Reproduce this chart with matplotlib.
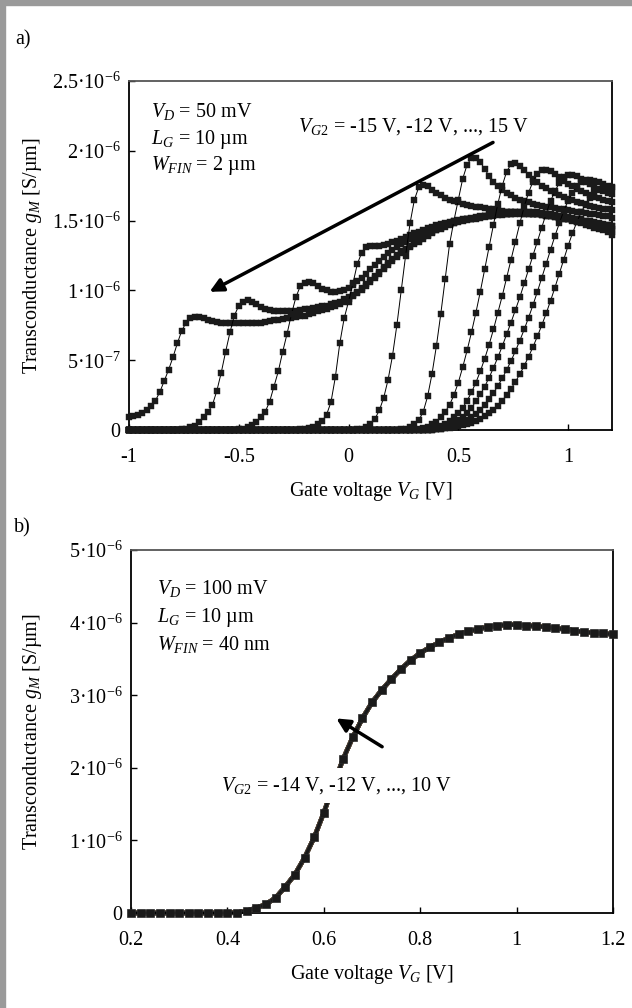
import numpy as np
import matplotlib
matplotlib.use("Agg")
import matplotlib.pyplot as plt
from matplotlib.patches import Rectangle

plt.rcParams["font.family"] = "Liberation Serif"
plt.rcParams["mathtext.fontset"] = "custom"
plt.rcParams["mathtext.rm"] = "Liberation Serif"
plt.rcParams["mathtext.it"] = "Liberation Serif:italic"
plt.rcParams["axes.unicode_minus"] = False

FS = 14.5

# ---- panel a: W_FIN = 2 um, gm in 1e-6 S/um, V_G from -1 to 1.2 in 0.02 V steps
vg_a = np.round(np.arange(-1.0, 1.2001, 0.02), 2)
vg2_a = [15, 12, 9, 6, 3, 0, -3, -6, -9, -12, -15]

# each list runs from the curve's onset up to 1.2 V (zeros before it)
gm_a_p15 = [0.09, 0.10, 0.11, 0.12, 0.14, 0.17, 0.21, 0.27, 0.35, 0.43,
            0.52, 0.62, 0.71, 0.77, 0.80, 0.81, 0.81, 0.80, 0.79, 0.78,
            0.775, 0.77, 0.765, 0.765, 0.765, 0.765, 0.765, 0.765, 0.77, 0.77,
            0.77, 0.775, 0.78, 0.785, 0.79, 0.795, 0.80, 0.805, 0.81, 0.815,
            0.82, 0.83, 0.84, 0.85, 0.86, 0.87, 0.88, 0.89, 0.905, 0.92,
            0.94, 0.96, 0.98, 1.00, 1.03, 1.06, 1.09, 1.12, 1.15, 1.18,
            1.21, 1.24, 1.27, 1.29, 1.31, 1.33, 1.35, 1.37, 1.39, 1.41,
            1.43, 1.44, 1.455, 1.47, 1.48, 1.49, 1.50, 1.505, 1.51, 1.515,
            1.52, 1.525, 1.53, 1.535, 1.54, 1.54, 1.545, 1.545, 1.55, 1.55,
            1.55, 1.55, 1.545, 1.545, 1.54, 1.535, 1.53, 1.525, 1.52, 1.515,
            1.51, 1.50, 1.49, 1.48, 1.47, 1.46, 1.45, 1.44, 1.43, 1.415, 1.40]
gm_a_p12 = [0.005, 0.01, 0.02, 0.03, 0.055, 0.09, 0.13, 0.18,
            0.28, 0.41, 0.56, 0.70, 0.82, 0.89, 0.92, 0.93, 0.92, 0.90,
            0.88, 0.87, 0.86, 0.855, 0.85, 0.85, 0.85, 0.85, 0.855, 0.86,
            0.865, 0.87, 0.875, 0.88, 0.885, 0.89, 0.90, 0.91, 0.92, 0.935,
            0.95, 0.97, 0.99, 1.015, 1.045, 1.075, 1.105, 1.135, 1.165, 1.195,
            1.225, 1.255, 1.28, 1.30, 1.32, 1.34, 1.36, 1.38, 1.40, 1.42,
            1.435, 1.45, 1.465, 1.475, 1.485, 1.495, 1.505, 1.51, 1.515, 1.52,
            1.525, 1.53, 1.535, 1.54, 1.545, 1.545, 1.55, 1.55, 1.555, 1.555,
            1.555, 1.555, 1.55, 1.55, 1.545, 1.54, 1.535, 1.53, 1.525, 1.52,
            1.515, 1.51, 1.50, 1.495, 1.485, 1.475, 1.465, 1.455, 1.445, 1.435, 1.42]
gm_a_p9 = [0.005, 0.01, 0.02, 0.035, 0.06,
           0.09, 0.13, 0.20, 0.31, 0.42, 0.56, 0.69, 0.83, 0.95, 1.03,
           1.055, 1.06, 1.05, 1.03, 1.01, 1.00, 0.99, 0.99, 0.995, 1.005,
           1.02, 1.04, 1.065, 1.09, 1.12, 1.15, 1.18, 1.21, 1.24, 1.265,
           1.29, 1.31, 1.33, 1.35, 1.37, 1.385, 1.40, 1.415, 1.43, 1.445,
           1.455, 1.465, 1.475, 1.485, 1.49, 1.50, 1.505, 1.51, 1.515, 1.52,
           1.525, 1.53, 1.535, 1.54, 1.545, 1.55, 1.55, 1.555, 1.555, 1.56,
           1.56, 1.56, 1.555, 1.555, 1.55, 1.545, 1.54, 1.535, 1.53, 1.525,
           1.52, 1.515, 1.51, 1.50, 1.495, 1.485, 1.475, 1.47, 1.46, 1.45, 1.44]
gm_a_p6 = [0.005, 0.01, 0.015, 0.025, 0.04, 0.065, 0.11, 0.20, 0.38, 0.62, 0.80,
           0.92, 1.05, 1.19, 1.27, 1.31, 1.32, 1.32, 1.32, 1.325, 1.335,
           1.345, 1.355, 1.37, 1.38, 1.395, 1.41, 1.42, 1.435, 1.445, 1.455,
           1.465, 1.475, 1.485, 1.49, 1.50, 1.505, 1.51, 1.515, 1.52, 1.525,
           1.53, 1.535, 1.54, 1.545, 1.55, 1.555, 1.56, 1.56, 1.565, 1.565,
           1.565, 1.565, 1.56, 1.56, 1.555, 1.55, 1.545, 1.54, 1.535, 1.53,
           1.525, 1.52, 1.515, 1.51, 1.50, 1.495, 1.49, 1.48, 1.475, 1.465, 1.46]
gm_a_p3 = [0.005, 0.01, 0.02, 0.04, 0.08, 0.14, 0.23, 0.36,
           0.53, 0.75, 1.00, 1.25, 1.48, 1.65, 1.74, 1.755, 1.745, 1.72,
           1.70, 1.68, 1.665, 1.65, 1.64, 1.63, 1.62, 1.61, 1.605, 1.60,
           1.595, 1.59, 1.585, 1.58, 1.575, 1.57, 1.565, 1.56, 1.56, 1.555,
           1.55, 1.55, 1.545, 1.545, 1.54, 1.535, 1.53, 1.525, 1.52, 1.515,
           1.51, 1.505, 1.50, 1.495, 1.49, 1.485, 1.48, 1.475, 1.47, 1.465, 1.46]
gm_a_0 = [0.005, 0.01, 0.02, 0.04, 0.07, 0.13, 0.24, 0.40,
          0.60, 0.83, 1.08, 1.33, 1.50, 1.65, 1.80, 1.90, 1.95, 1.95,
          1.92, 1.87, 1.82, 1.78, 1.75, 1.72, 1.70, 1.68, 1.665, 1.65,
          1.64, 1.63, 1.62, 1.61, 1.605, 1.60, 1.595, 1.59, 1.585, 1.58,
          1.575, 1.57, 1.565, 1.56, 1.555, 1.55, 1.545, 1.54, 1.535, 1.53, 1.52]
gm_a_m3 = [0.005, 0.01, 0.015, 0.025, 0.04,
           0.06, 0.09, 0.13, 0.18, 0.25, 0.34, 0.45, 0.57, 0.70, 0.84,
           0.99, 1.15, 1.31, 1.47, 1.62, 1.75, 1.85, 1.905, 1.91, 1.89,
           1.86, 1.83, 1.80, 1.775, 1.75, 1.73, 1.71, 1.695, 1.68, 1.67,
           1.655, 1.645, 1.635, 1.625, 1.615, 1.605, 1.60, 1.59, 1.585, 1.58, 1.575]
gm_a_m6 = [0.005, 0.01,
           0.02, 0.03, 0.045, 0.065, 0.09, 0.12, 0.16, 0.21, 0.27, 0.34,
           0.42, 0.51, 0.61, 0.72, 0.84, 0.96, 1.09, 1.22, 1.35, 1.48,
           1.60, 1.70, 1.78, 1.835, 1.86, 1.865, 1.855, 1.835, 1.81, 1.785,
           1.765, 1.745, 1.725, 1.71, 1.695, 1.68, 1.67, 1.66, 1.65, 1.64, 1.63]
gm_a_m9 = [0.005,
           0.01, 0.015, 0.025, 0.035, 0.05, 0.07, 0.095, 0.125, 0.16, 0.205,
           0.255, 0.31, 0.375, 0.445, 0.52, 0.60, 0.685, 0.77, 0.86, 0.95,
           1.05, 1.15, 1.25, 1.35, 1.45, 1.55, 1.64, 1.71, 1.77, 1.81,
           1.83, 1.83, 1.82, 1.80, 1.78, 1.76, 1.74, 1.725, 1.71, 1.70, 1.69]
gm_a_m12 = [0.005, 0.01, 0.015, 0.02, 0.03, 0.04, 0.055, 0.07, 0.09, 0.115,
            0.145, 0.18, 0.22, 0.265, 0.315, 0.37, 0.43, 0.495, 0.565, 0.64,
            0.72, 0.805, 0.895, 0.99, 1.09, 1.19, 1.29, 1.39, 1.48, 1.57,
            1.64, 1.70, 1.745, 1.775, 1.79, 1.79, 1.785, 1.775, 1.765, 1.75, 1.74]
gm_a_m15 = [0.005, 0.008, 0.012, 0.016, 0.02, 0.026, 0.033, 0.042, 0.053, 0.066,
            0.082, 0.10, 0.12, 0.145, 0.175, 0.21, 0.25, 0.295, 0.345, 0.40,
            0.46, 0.525, 0.595, 0.67, 0.75, 0.835, 0.925, 1.02, 1.12, 1.22,
            1.32, 1.41, 1.49, 1.56, 1.62, 1.665, 1.70, 1.72, 1.73, 1.735, 1.735]
curves_a = [gm_a_p15, gm_a_p12, gm_a_p9, gm_a_p6, gm_a_p3, gm_a_0,
            gm_a_m3, gm_a_m6, gm_a_m9, gm_a_m12, gm_a_m15]

# ---- panel b: W_FIN = 40 nm, all V_G2 curves fall on top of each other
vg_b = np.round(np.arange(0.2, 1.2001, 0.02), 2)
vg2_b = [-14, -12, -10, -8, -6, -4, -2, 0, 2, 4, 6, 8, 10]
gm_b = [0, 0, 0, 0, 0, 0, 0, 0, 0, 0,
        0.0, 0.005, 0.03, 0.07, 0.12, 0.21, 0.36, 0.53, 0.76, 1.04,
        1.38, 1.76, 2.12, 2.42, 2.68, 2.90, 3.07, 3.22, 3.36, 3.48,
        3.58, 3.66, 3.73, 3.79, 3.84, 3.88, 3.91, 3.94, 3.96, 3.97,
        3.97, 3.96, 3.95, 3.94, 3.92, 3.91, 3.89, 3.87, 3.86, 3.85, 3.84]
line_colors_b = ["#4F81BD", "#C0504D", "#9BBB59", "#8064A2", "#4BACC6", "#F79646",
                 "#2C4D75", "#772C2A", "#5F7530", "#4D3B62", "#276A7C", "#B65708", "#3A3A3A"]


def sci(m, e):
    return r"$\mathrm{%s·10}^{%d}$" % (m, e)


fig = plt.figure(figsize=(6.32, 10.08), dpi=100)
W, H = 632, 1008
ax_a = fig.add_axes([129 / W, 1 - 430 / H, (612 - 129) / W, (430 - 81) / H])
ax_b = fig.add_axes([131 / W, 1 - 913 / H, (613 - 131) / W, (913 - 550) / H])

# gray frame of the original page
fig.patches.append(Rectangle((0, 0), 5 / W, 1, transform=fig.transFigure,
                             color="#9a9a9a", zorder=0))
fig.patches.append(Rectangle((0, 1 - 5 / H), 1, 5 / H, transform=fig.transFigure,
                             color="#9a9a9a", zorder=0))

for vals in curves_a:
    y = np.concatenate([np.zeros(len(vg_a) - len(vals)), vals])
    ax_a.plot(vg_a, y, color="black", lw=0.7, marker="s", ms=4.2,
              mfc="#1a1a1a", mec="#1a1a1a", mew=0.3, clip_on=False, zorder=3)

for c in line_colors_b:
    ax_b.plot(vg_b, gm_b, color=c, lw=3.2, zorder=2, clip_on=False)
ax_b.plot(vg_b, gm_b, color="#1a1a1a", lw=2.2, zorder=2.5, clip_on=False)
ax_b.plot(vg_b, gm_b, ls="none", marker="s", ms=5.2, mfc="#1a1a1a",
          mec="#2a2a2a", mew=0.5, zorder=3, clip_on=False)

# axes styling
for ax in (ax_a, ax_b):
    for s in ax.spines.values():
        s.set_linewidth(1.3)
        s.set_color("black")
    ax.spines["top"].set_color("#555555")
    ax.tick_params(direction="in", length=4, width=1, labelsize=FS)
    ax.tick_params(axis="y", pad=6)
    ax.tick_params(axis="x", pad=13)
    ax.set_ylabel(r"Transconductance $g_M$ [S/µm]", fontsize=FS)
    ax.set_xlabel(r"Gate voltage $V_G$ [V]", fontsize=FS, labelpad=9)

ax_a.yaxis.set_label_coords((44 - 129) / 483, 0.5)
ax_b.yaxis.set_label_coords((44 - 131) / 482, 0.5)

ax_a.set_xlim(-1, 1.2)
ax_a.set_ylim(0, 2.5)
ax_a.set_xticks([-1, -0.5, 0, 0.5, 1])
ax_a.set_xticklabels(["-1", "-0.5", "0", "0.5", "1"])
ax_a.set_yticks([0, 0.5, 1, 1.5, 2, 2.5])
ax_a.set_yticklabels(["0", sci("5", -7), sci("1", -6), sci("1.5", -6),
                      sci("2", -6), sci("2.5", -6)])

ax_b.set_xlim(0.2, 1.2)
ax_b.set_ylim(0, 5)
ax_b.set_xticks([0.2, 0.4, 0.6, 0.8, 1, 1.2])
ax_b.set_xticklabels(["0.2", "0.4", "0.6", "0.8", "1", "1.2"])
ax_b.set_yticks([0, 1, 2, 3, 4, 5])
ax_b.set_yticklabels(["0"] + [sci(str(k), -6) for k in range(1, 6)])

# annotations panel a
ax_a.text(-0.9, 2.244, r"$V_D$ = 50 mV", fontsize=FS)
ax_a.text(-0.9, 2.05, r"$L_G$ = 10 µm", fontsize=FS)
ax_a.text(-0.9, 1.86, r"$W_{FIN}$ = 2 µm", fontsize=FS)
ax_a.text(-0.23, 2.137, r"$V_{G2}$ = -15 V, -12 V, ..., 15 V", fontsize=FS)
ax_a.annotate("", xy=(-0.633, 0.99), xytext=(0.658, 2.06),
              arrowprops=dict(arrowstyle="-|>", lw=2.5, color="black",
                              mutation_scale=20, shrinkA=0, shrinkB=0), zorder=5)

# annotations panel b
ax_b.text(0.254, 4.40, r"$V_D$ = 100 mV", fontsize=FS)
ax_b.text(0.254, 4.01, r"$L_G$ = 10 µm", fontsize=FS)
ax_b.text(0.254, 3.62, r"$W_{FIN}$ = 40 nm", fontsize=FS)
ax_b.text(0.386, 1.76, r"$V_{G2}$ = -14 V, -12 V, ..., 10 V", fontsize=FS,
          va="center", zorder=4,
          bbox=dict(boxstyle="square,pad=0.35", fc="white", ec="none"))
ax_b.annotate("", xy=(0.626, 2.68), xytext=(0.721, 2.29),
              arrowprops=dict(arrowstyle="-|>", lw=2.5, color="black",
                              mutation_scale=20, shrinkA=0, shrinkB=0), zorder=5)

fig.text(23 / W, 1 - 40 / H, "a)", fontsize=FS, ha="center", va="center")
fig.text(22 / W, 1 - 528 / H, "b)", fontsize=FS, ha="center", va="center")

fig.savefig("out.png", dpi=100)
